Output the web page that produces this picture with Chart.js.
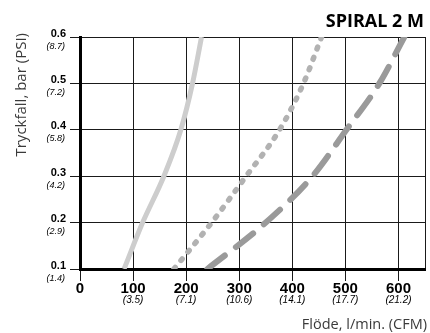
<!DOCTYPE html>
<html>
<head>
<meta charset="utf-8">
<script src="https://cdn.jsdelivr.net/npm/chart.js@4/dist/chart.umd.min.js"></script>
<style>
  body { margin: 0; background: #fff; }
</style>
</head>
<body>
<canvas id="chart" width="430" height="333"></canvas>
<script>
// pressure drop levels (bar) and their PSI labels
const pressure = [0.1, 0.2, 0.3, 0.4, 0.5, 0.6];
const yTickBar = ["0.1", "0.2", "0.3", "0.4", "0.5", "0.6"];
const yTickPsi = ["(1.4)", "(2.9)", "(4.2)", "(5.8)", "(7.2)", "(8.7)"];

// flow ticks (l/min) and CFM labels
const xTickValues = [0, 100, 200, 300, 400, 500, 600];
const xTickCfm = ["", "(3.5)", "(7.1)", "(10.6)", "(14.1)", "(17.7)", "(21.2)"];

// flow at each pressure level
const flowLight = [83, 118, 158, 190, 212, 229];
const flowDotted = [177, 248, 313, 376, 421, 455];
const flowDashed = [240, 350, 438, 502, 564, 611];

const toPoints = (flows) => flows.map((f, i) => ({ x: f, y: pressure[i] }));

const tickLabels = {
    id: "tickLabels",
    afterDraw(chart) {
        const ctx = chart.ctx;
        const xs = chart.scales.x;
        const ys = chart.scales.y;
        ctx.save();
        ctx.fillStyle = "#000";

        // y labels: bar bold, psi italic underneath
        ctx.textAlign = "right";
        ctx.textBaseline = "middle";
        pressure.forEach((p, i) => {
            const py = ys.getPixelForValue(p);
            ctx.font = "bold 11px 'Liberation Sans', Arial, sans-serif";
            ctx.fillText(yTickBar[i], 66, py - 3.5);
            ctx.font = "italic 9px 'Liberation Sans', Arial, sans-serif";
            ctx.fillText(yTickPsi[i], 65, py + 9);
        });

        // x labels
        ctx.textAlign = "center";
        xTickValues.forEach((v, i) => {
            const px = xs.getPixelForValue(v);
            ctx.font = "bold 15px 'Liberation Sans', Arial, sans-serif";
            ctx.fillText(String(v), px, 289);
            if (xTickCfm[i]) {
                ctx.font = "italic 10px 'Liberation Sans', Arial, sans-serif";
                ctx.fillText(xTickCfm[i], px, 300);
            }
        });

        // axis titles
        ctx.fillStyle = "#3a3a3a";
        ctx.textAlign = "right";
        ctx.font = "14.5px 'Open Sans', sans-serif";
        ctx.fillText("Flöde, l/min. (CFM)", 427, 325);
        ctx.save();
        ctx.translate(22, 33);
        ctx.rotate(-Math.PI / 2);
        ctx.font = "15px 'Open Sans', sans-serif";
        ctx.fillText("Tryckfall, bar (PSI)", 0, 0);
        ctx.restore();

        // title
        ctx.fillStyle = "#000";
        ctx.textBaseline = "alphabetic";
        ctx.font = "bold 18px 'Open Sans', sans-serif";
        ctx.fillText("SPIRAL 2 M", 424, 27);
        ctx.restore();
    }
};

new Chart(document.getElementById("chart"), {
    type: "line",
    data: {
        datasets: [
            {
                data: toPoints(flowLight),
                borderColor: "#cdcdcd",
                borderWidth: 5,
                pointRadius: 0,
                cubicInterpolationMode: "monotone",
                clip: 0
            },
            {
                data: toPoints(flowDotted),
                borderColor: "#b2b2b2",
                borderWidth: 5.5,
                borderDash: [2, 9],
                borderCapStyle: "round",
                pointRadius: 0,
                cubicInterpolationMode: "monotone",
                clip: 0
            },
            {
                data: toPoints(flowDashed),
                borderColor: "#9a9a9a",
                borderWidth: 6,
                borderDash: [22, 14],
                borderCapStyle: "round",
                pointRadius: 0,
                cubicInterpolationMode: "monotone",
                clip: 0
            }
        ]
    },
    options: {
        responsive: false,
        devicePixelRatio: 1,
        animation: false,
        layout: { padding: { top: 37, right: 5, left: 0, bottom: 0 } },
        plugins: {
            legend: { display: false },
            tooltip: { enabled: false }
        },
        scales: {
            x: {
                type: "linear",
                min: 0,
                max: 650,
                afterBuildTicks: (scale) => {
                    scale.ticks = xTickValues.concat([650]).map((v) => ({ value: v }));
                },
                afterFit: (scale) => { scale.height = 64; },
                ticks: { display: false },
                grid: {
                    color: "#1a1a1a",
                    lineWidth: 1,
                    drawTicks: true,
                    tickLength: 12,
                    tickColor: (c) => (c.tick && c.tick.value === 650 ? "rgba(0,0,0,0)" : "#1a1a1a")
                },
                border: { display: true, color: "#000", width: 3 }
            },
            y: {
                type: "linear",
                min: 0.1,
                max: 0.6,
                afterBuildTicks: (scale) => {
                    scale.ticks = pressure.map((v) => ({ value: v }));
                },
                afterFit: (scale) => { scale.width = 80; },
                ticks: { display: false },
                grid: {
                    color: "#1a1a1a",
                    lineWidth: 1,
                    drawTicks: true,
                    tickLength: 10,
                    tickColor: "#1a1a1a"
                },
                border: { display: true, color: "#000", width: 3 }
            }
        }
    },
    plugins: [tickLabels]
});
</script>
</body>
</html>
